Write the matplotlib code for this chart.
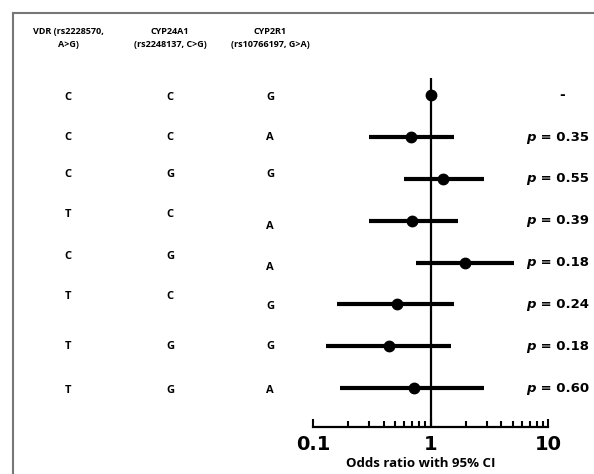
import matplotlib.pyplot as plt
from matplotlib.lines import Line2D
from matplotlib.ticker import LogLocator, NullFormatter, FixedLocator, FixedFormatter
from matplotlib.transforms import blended_transform_factory

# Data
vdr = ['C', 'C', 'C', 'T', 'C', 'T', 'T', 'T']
cyp24a1 = ['C', 'C', 'G', 'C', 'G', 'C', 'G', 'G']
cyp2r1 = ['G', 'A', 'G', 'A', 'A', 'G', 'G', 'A']
odds_ratio = [1.0, 0.68, 1.29, 0.70, 1.95, 0.52, 0.44, 0.72]
ci_low = [1.0, 0.30, 0.59, 0.30, 0.75, 0.16, 0.128, 0.17]
ci_high = [1.0, 1.57, 2.83, 1.70, 5.1, 1.6, 1.48, 2.83]
p_values = ['-', '0.35', '0.55', '0.39', '0.18', '0.24', '0.18', '0.60']
headers = ['VDR (rs2228570,\nA>G)', 'CYP24A1\n(rs2248137, C>G)', 'CYP2R1\n(rs10766197, G>A)']

W, H = 594, 474
fig = plt.figure(figsize=(W / 100, H / 100), dpi=100)
ax = fig.add_axes([313 / W, 1 - 427 / H, (548 - 313) / W, (427 - 78) / H])

rows = list(range(1, len(odds_ratio) + 1))

# CI bars and points
for r, lo, hi in zip(rows, ci_low, ci_high):
    if hi > lo:
        ax.plot([lo, hi], [r, r], color='black', lw=3, solid_capstyle='butt', zorder=2)
ax.plot(odds_ratio, rows, 'o', color='black', markersize=7.5, zorder=3)
ax.axvline(1, color='black', lw=1.6, zorder=1)

ax.set_xscale('log')
ax.set_xlim(0.1, 10)
ax.set_ylim(8.93, 0.59)
ax.xaxis.set_major_locator(FixedLocator([0.1, 1, 10]))
ax.xaxis.set_major_formatter(FixedFormatter(['0.1', '1', '10']))
ax.xaxis.set_minor_locator(LogLocator(base=10, subs=range(2, 10)))
ax.xaxis.set_minor_formatter(NullFormatter())
ax.tick_params(axis='x', which='major', direction='in', length=6, width=1.5, pad=6,
               labelsize=14)
ax.tick_params(axis='x', which='minor', direction='in', length=4.5, width=1.5)
for lab in ax.get_xticklabels():
    lab.set_fontweight('bold')
ax.set_yticks([])
for s in ['top', 'right', 'left']:
    ax.spines[s].set_visible(False)
ax.spines['bottom'].set_linewidth(1.6)
ax.set_xlabel('Odds ratio with 95% CI', fontsize=9.5, fontweight='bold',
              family='Open Sans')
ax.xaxis.set_label_coords(0.46, -0.085)
ax.set_facecolor('none')

# genotype columns (x in figure fraction, y in data rows)
tr = blended_transform_factory(fig.transFigure, ax.transData)
col_x = [68 / W, 170 / W, 270 / W]
shift12 = [0.05, 0, -0.1, -0.15, -0.15, -0.2, 0, 0.05]
shift3 = [0.05, 0, -0.1, 0.15, 0.12, 0.05, 0, 0.05]
for i, r in enumerate(rows):
    for j, col in enumerate([vdr, cyp24a1, cyp2r1]):
        sh = shift3[i] if j == 2 else shift12[i]
        fig.text(col_x[j], r + sh, col[i], transform=tr, ha='center', va='center',
                 fontsize=8, fontweight='bold', family='Open Sans')

for j, h in enumerate(headers):
    fig.text(col_x[j], 1 - 38 / H, h, ha='center', va='center', fontsize=6.5,
             fontweight='bold', family='Open Sans', linespacing=1.45)

# p values, right aligned near the right edge
for r, p in zip(rows, p_values):
    if p == '-':
        fig.text(562 / W, r, '-', transform=tr, ha='center', va='center',
                 fontsize=10, fontweight='bold')
    else:
        t = fig.text(589 / W, r, ' = ' + p, transform=tr, ha='right', va='center',
                     fontsize=9.5, fontweight='bold')
        ax.annotate('p', xy=(0, 0.5), xycoords=t, ha='right', va='center',
                    fontsize=9.5, fontweight='bold', style='italic',
                    annotation_clip=False)

# grey frame on left and top
fig.add_artist(Line2D([13 / W, 13 / W], [0, 1 - 13 / H], transform=fig.transFigure,
                      color='#777777', lw=1.5))
fig.add_artist(Line2D([13 / W, 1], [1 - 13 / H, 1 - 13 / H], transform=fig.transFigure,
                      color='#777777', lw=1.5))

fig.savefig('out.png', dpi=100)
